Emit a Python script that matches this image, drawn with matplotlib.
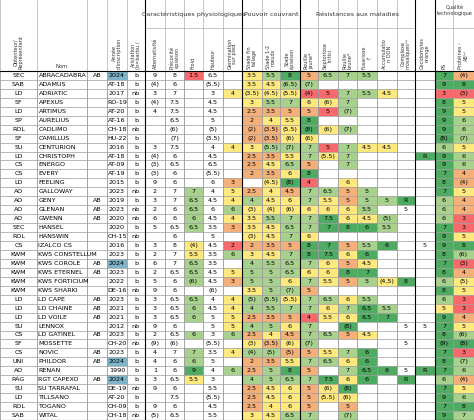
import matplotlib
matplotlib.use("Agg")
import matplotlib.pyplot as plt
from matplotlib.patches import Rectangle

obt = ["SEC","SAB","LD","SF","LD","SP","ROL","SF","SU","LD","CS","CS","LD","AO","AO","AO","AO","SEC","ROL","CS",
       "KWM","KWM","KWM","KWM","KWM","LD","LD","LD","SU","CS","SF","CS","UNI","AO","RAG","SU","LD","ROL","SAB"]
nom = ["ABRACADABRA","ADAMUS","ADRIATIC","APEXUS","ARTIMUS","AURELIUS","CADLIMO","CAMILLUS","CENTURION","CHRISTOPH",
       "ENERGO","EVERY","FEELING","GALLOWAY","GENY","GLENAN","GWENN","HANSEL","HANSWIN","IZALCO CS",
       "KWS CONSTELLUM","KWS COROLE","KWS ETERNEL","KWS FORTICIUM","KWS SHARKI","LD CAPE","LD CHAINE","LD VOILE","LENNOX",
       "LD GATINEL","MOSSETTE","NOVIC","PHILDOR","RENAN","RGT CAPEXO","SU TARRAFAL","TILLSANO","TOGANO","WITAL"]
ab = ["AB","","","","","","","","","","","","","","AB","AB","AB","","","","","AB","AB","","","AB","AB","AB","",
      "AB","","AB","AB","","AB","","","",""]
annee = ["2024","AT-18","2017","RO-19","AT-20","AT-16","CH-18","HU-22","2016","AT-18","AT-09","AT-19","2015","2023","2019",
         "2023","2020","2020","CH-15","2016","2023","2024","2023","2022","DE-16","2023","2021","2021","2012","2023","CH-20",
         "2023","2024","1990","2024","DE-19","AT-20","CH-09","CH-18"]
arist = ["b","b","nb","b","b","b","nb","b","b","b","b","b","b","nb","b","nb","nb","b","nb","b","b","b","b","b","nb",
         "b","b","b","nb","b","nb","b","b","b","b","nb","b","b","nb"]
alt = ["9","(4)","3","(4)","4","","","","3","(4)","(3)","(3)","9","2","3","2","6","5","","3","2","6","2","5","9","3","3","3",
       "9","2","(9)","4","4","1","3","9","","9","(5)"]
prec = ["8","6","7","7.5","7.5","6.5","(6)","(7)","7.5","6","6.5","6","6","7","7","6","6","6.5","6","8","7","7","6.5","6","6",
        "6.5","6.5","6.5","6","6.5","(6)","7","6","6","6.5","6","7.5","6","6.5"]
froid = ["1.5","","","","","","","","","","","","","7","6.5","6.5","6","6.5","","(4)","5.5","6.5","6.5","(6)","","6.5","6","6",
         "","6","","7","6","9","5.5","","","",""]
haut = ["6.5","(5.5)","3","4.5","4.5","5","(5)","(3.5)","4","4.5","6.5","(5.5)","6","4","4.5","6","4.5","3.5","5","4.5","3.5",
        "3.5","4.5","4.5","(6)","4","4.5","5","5","3","(5.5)","3.5","5","4","3","5.5","(5.5)","4.5","5.5"]
germ = ["","","4","","","","","","4","","","","3","5","4","6","4","3","","2","6","","5","3","","4","4","5","5","6","","4","",
        "6","","","","",""]
sft = ["3.5","3.5","(3.5)","3","2.5","2","(2)","(2)","3","2.5","2.5","2","","2.5","4","(3)","3.5","3.5","(3)","2","3","4","5","5",
       "3.5","(5)","4","2.5","4","2.5","(3)","(4)","2","2.5","4","2.5","2.5","2.5","3"]
s12 = ["5.5","4.5","(4.5)","5.5","3.5","4","(3.5)","(3.5)","(5.5)","3.5","4.5","3.5","(4.5)","4","4.5","(4)","5.5","4.5","4.5",
       "3.5","4.5","5.5","5","5","5","(5.5)","5.5","3.5","5","4","(3.5)","(5)","3.5","5","5","4.5","4.5","4","4.5"]
sep = ["8","(6.5)","(5.5)","7","5","5.5","(5.5)","(6)","(7)","5.5","6.5","6","(8)","4.5","6","(6)","7","6.5","7","5","7","6.5",
       "6.5","6","(7)","(5.5)","7","5","6","4.5","(6)","(5)","5.5","8","6.5","6","6","6","6.5"]
rj = ["5","(7)","(4)","6","5","8","(8)","(6)","7","7","5","8","4","7","7","6","7","7","6","8","8","7","6","7","5","7","7","4","7",
      "7","(7)","5","7","5","7","5","5","5","7"]
sept = ["6.5","","5","(6)","5","","(6)","","5","(5.5)","","","","6.5","5.5","6","7.5","7","","7","7.5","6","6","5.5","","6.5",
        "6","5.5","","6.5","","5.5","6.5","","7.5","(6)","(5.5)","",""]
rb = ["7","","7","7","(7)","","(7)","","7","7","7","","6","5","5","6","6","8","","5","6","5","8","5","","6","7","6","(8)","5",
      "","7","6","7","6","(8)","(6)","5","(7)"]
fus = ["5.5","","5.5","","","","","","4.5","","","","","5","5","5.5","4.5","6","","5.5","6","4.5","7","5","","5.5","6.5","6.5",
       "","4.5","","6","6","6.5","6","","","",""]
don = ["","","4.5","","","","","","4.5","","","","","","5","","(5)","5.5","","6","","","","(4.5)","","","5.5","7","","","",
       "","","6","","","","",""]
mos = ["","","","","","","","","","","","","","","R","5","","","","","","","","8","","","","","5","","5","","","5","R","","",
       "",""]
cec = ["","","","","","","","","","R","","","","","","","","","","5","","","","","","","","","5","","","","","R","","","","",
       ""]
ps = ["7","9","3","8","9","9","9","(8)","6","9","9","7","8","7","6","6","6","7","9","9","8","7","8","6","8","6","5","9","7","8",
      "(9)","7","8","7","6","7","9","7","9"]
prot = ["(4)","8","(3)","5","5","6","6","(7)","5","6","6","4","(4)","5","4","4","3","3","5","8","(6)","(3)","4","(5)","5","3","3",
        "4","5","(6)","(8)","3","(7)","6","(4)","5","6","8","7"]

RED, ORA, YEL, LGR, GRN = "#f8696b", "#f5b07a", "#ffe97f", "#a9d18e", "#4faa62"
thr = {
    "froid": (2, 3, 5.5, 7), "germ": (2, 3, 5, 6.5), "sft": (1.5, 2.5, 3.5, 5), "s12": (2.5, 3.5, 4.5, 6),
    "sep": (4, 5, 6, 7.5), "rj": (4, 5, 6, 7), "sept": (5, 5, 6, 6.5), "rb": (4, 5, 6, 7),
    "fus": (3.5, 4, 4.5, 5.5), "don": (3.5, 4, 4.5, 5.5), "ps": (3, 4, 5, 6.5), "prot": (3, 4, 5, 7),
}

def color(key, s):
    if s == "":
        return None
    if s == "R":
        return GRN
    if key in ("mos", "cec"):
        return GRN if s == "8" else None
    if key not in thr:
        return None
    v = float(s.strip("()"))
    r, o, y, g = thr[key]
    if v <= r: return RED
    if v <= o: return ORA
    if v <= y: return YEL
    if v <= g: return LGR
    return GRN

cols = [("obt", obt, 0, 37), ("nom", nom, 37, 87), ("ab", ab, 87, 107), ("annee", annee, 107, 127),
        ("arist", arist, 127, 145), ("alt", alt, 145, 165), ("prec", prec, 165, 184), ("froid", froid, 184, 203),
        ("haut", haut, 203, 223), ("germ", germ, 223, 242), ("sft", sft, 242, 262), ("s12", s12, 262, 280),
        ("sep", sep, 280, 300), ("rj", rj, 300, 318), ("sept", sept, 318, 338), ("rb", rb, 338, 357),
        ("fus", fus, 357, 377), ("don", don, 377, 397), ("mos", mos, 397, 415), ("cec", cec, 415, 435),
        ("ps", ps, 435, 453), ("prot", prot, 453, 474)]
headers = {"obt": "Obtenteur/\nReprésentant", "annee": "Année\nd'inscription", "arist": "Aristation\n(b=barbu /",
           "alt": "Alternativité", "prec": "Précocité\népiaison", "froid": "Froid", "haut": "Hauteur",
           "germ": "Germination\nsur pied", "sft": "Stade fin\ntallage", "s12": "Stade 1-2\nnœuds",
           "sep": "Stade\népiaison", "rj": "Rouille\njaune*", "sept": "Septoriose\ntritici", "rb": "Rouille\nbrune*",
           "fus": "Fusariose\n(¹", "don": "Accumulatio\nn DON", "mos": "Complexe\nmosaïques⁽³⁾",
           "cec": "Cécidomyies\norange", "ps": "PS", "prot": "Protéines -\nAB⁽²⁾"}

W, H = 474, 420
fig = plt.figure(figsize=(4.74, 4.2), dpi=100)
ax = fig.add_axes([0, 0, 1, 1])
ax.set_xlim(0, W); ax.set_ylim(H, 0); ax.axis("off")

top, y0 = 0, 71
n = len(nom)
rh = (H - y0) / n
fs = 4.6
for key, vals, x1, x2 in cols:
    for i, s in enumerate(vals):
        yy = y0 + i * rh
        c = color(key, s)
        if key == "annee" and s == "2024":
            c = "#7fb3c8"
        ax.add_patch(Rectangle((x1, yy), x2 - x1, rh, facecolor=c if c else "white",
                               edgecolor="#999999", lw=0.4))
        if key == "nom":
            ax.text(x1 + 1.5, yy + rh / 2, s, fontsize=fs, va="center", ha="left")
        else:
            ax.text((x1 + x2) / 2, yy + rh / 2, s, fontsize=fs, va="center", ha="center")
    if key in headers:
        ytop = 28 if key not in ("obt", "annee", "arist") else 2
        ax.text((x1 + x2) / 2, 69, headers[key], rotation=90, fontsize=3.6, ha="center", va="bottom",
                linespacing=1.0, color="#333333")
    ax.plot([x1, x1], [0, H], color="#999999", lw=0.4)
ax.text(62, 66, "Nom", fontsize=3.8, ha="center", va="center", color="#333333")

groups = [("Caractéristiques physiologiques", 145, 242), ("Pouvoir couvrant", 242, 300),
          ("Résistances aux maladies", 300, 415), ("Qualité\ntechnologique", 435, 474)]
for t, a, b in groups:
    ax.text((a + b) / 2, 14 if "\n" not in t else 11, t, fontsize=4.6 if "\n" not in t else 3.6,
            ha="center", va="center", linespacing=1.0, color="#333333")
    ax.plot([a, b], [28, 28], color="#999999", lw=0.4)
for x in (145, 242, 300, 415, 435):
    ax.plot([x, x], [0, H], color="black", lw=0.8)
ax.plot([0, W], [y0, y0], color="black", lw=0.8)
ax.plot([0, W], [H - 0.5, H - 0.5], color="black", lw=0.8)
fig.savefig("out.png", dpi=100)
